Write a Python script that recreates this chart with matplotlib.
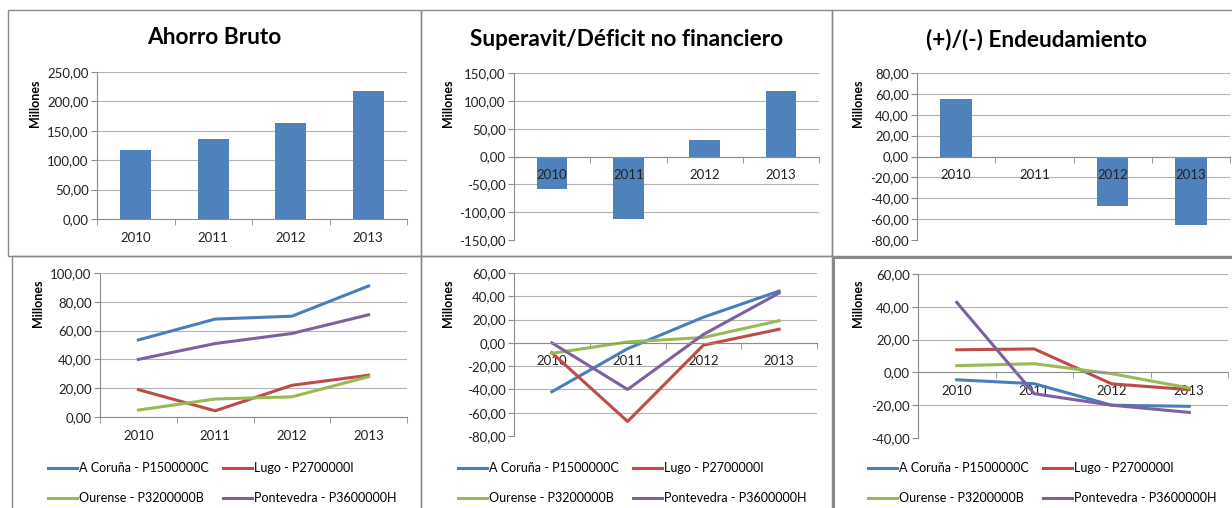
import matplotlib
matplotlib.use("Agg")
import matplotlib.pyplot as plt
from matplotlib.patches import Rectangle
from matplotlib.ticker import FuncFormatter, MultipleLocator, FixedLocator
from matplotlib.lines import Line2D

plt.rcParams['font.family'] = ['Lato', 'DejaVu Sans']

years = ['2010', '2011', '2012', '2013']

# top row, bar charts (millones)
ahorro_bruto = [117, 136, 164, 218]
superavit = [-59, -113, 29, 117]
endeudamiento = [55, 0, -47, -66]

# bottom row, one line per province
provincias = ['A Coruña - P1500000C', 'Lugo - P2700000I',
              'Ourense - P3200000B', 'Pontevedra - P3600000H']
colores = ['#4A7EBB', '#BE4B48', '#98B954', '#7D60A0']

ab_coruna = [53.5, 68, 70, 91]
ab_lugo = [19, 4.3, 22, 29]
ab_ourense = [4.8, 12.5, 14, 28]
ab_pontevedra = [40, 51, 58, 71]

sd_coruna = [-42, -5, 22, 44.5]
sd_lugo = [-8.5, -67.5, -2, 11.7]
sd_ourense = [-9, 0.8, 4.6, 19]
sd_pontevedra = [0, -40, 7.2, 42.8]

en_coruna = [-4.5, -6.9, -20, -20.7]
en_lugo = [13.8, 14.3, -7, -10.5]
en_ourense = [4.1, 5.3, -0.8, -9.5]
en_pontevedra = [42.7, -13, -20, -24.4]

W, H = 1232, 508
fig = plt.figure(figsize=(W / 100, H / 100), dpi=100)


def box(x0, y0, x1, y1):
    return [x0 / W, 1 - y1 / H, (x1 - x0) / W, (y1 - y0) / H]


def coma(v, pos):
    return f"{v:.2f}".replace('.', ',')


GRID = '#b3b3b3'
AXC = '#8c8c8c'


def style(ax, ymin, ymax, step, cross_zero):
    ax.set_xlim(-0.5, 3.5)
    ax.set_ylim(ymin, ymax)
    ax.yaxis.set_major_locator(MultipleLocator(step))
    ax.yaxis.set_major_formatter(FuncFormatter(coma))
    # gridlines by hand so the tick labels stay above the bars
    v = ymin + step
    while v <= ymax + 1e-9:
        ax.axhline(v, color=GRID, lw=0.8, zorder=0)
        v += step
    for s in ['top', 'right']:
        ax.spines[s].set_visible(False)
    ax.spines['left'].set_color(AXC)
    ax.spines['bottom'].set_color(AXC)
    if cross_zero:
        ax.spines['bottom'].set_position(('data', 0))
    ax.set_xticks(range(4))
    ax.set_xticklabels(years)
    ax.xaxis.set_minor_locator(FixedLocator([-0.5, 0.5, 1.5, 2.5, 3.5]))
    ax.tick_params(axis='x', which='major', length=0, pad=9, labelsize=9.5, colors='#222222')
    ax.tick_params(axis='x', which='minor', length=4, color=AXC)
    ax.tick_params(axis='y', length=4, color=AXC, labelsize=9.5, labelcolor='#222222', pad=2)


# panel borders
for (x0, y0, x1, y1, lw) in [(8, 10, 421, 256, 1), (421, 10, 832, 256, 1), (832, 10, 1240, 256, 1),
                             (12, 256, 421, 520, 1), (421, 256, 832, 520, 1), (833, 257, 1240, 520, 2.2)]:
    fig.patches.append(Rectangle((x0 / W, 1 - y1 / H), (x1 - x0) / W, (y1 - y0) / H,
                                 transform=fig.transFigure, fill=False, ec='#8a8a8a', lw=lw))

# top row
top = [
    ('Ahorro Bruto', ahorro_bruto, (97, 72, 407, 219), (0, 250, 50), False, 214, 38, 35),
    ('Superavit/Déficit no financiero', superavit, (514, 73, 819, 240), (-150, 150, 50), True, 627, 39, 448),
    ('(+)/(-) Endeudamiento', endeudamiento, (917, 73, 1230, 240), (-80, 80, 20), True, 1037, 39, 858),
]
for titulo, vals, b, (lo, hi, st), cz, tx, ty, lx in top:
    ax = fig.add_axes(box(*b))
    ax.bar(range(4), vals, width=0.4, color='#4F81BD', zorder=1)
    style(ax, lo, hi, st, cz)
    fig.text(tx / W, 1 - ty / H, titulo, ha='center', va='center', fontsize=16.3, fontweight='bold')
    fig.text(lx / W, 1 - 103 / H, 'Millones', rotation=90, ha='center', va='center',
             fontsize=9, fontweight='bold')

# bottom row
bottom = [
    ([ab_coruna, ab_lugo, ab_ourense, ab_pontevedra], (100, 273, 407, 417), (0, 100, 20), False, 38, 48),
    ([sd_coruna, sd_lugo, sd_ourense, sd_pontevedra], (514, 273, 817, 436), (-80, 60, 20), True, 448, 458),
    ([en_coruna, en_lugo, en_ourense, en_pontevedra], (918, 274, 1228, 438), (-40, 60, 20), True, 858, 868),
]
for series, b, (lo, hi, st), cz, lx, legx in bottom:
    ax = fig.add_axes(box(*b))
    for vals, c in zip(series, colores):
        ax.plot(range(4), vals, color=c, lw=2.2)
    style(ax, lo, hi, st, cz)
    fig.text(lx / W, 1 - 303 / H, 'Millones', rotation=90, ha='center', va='center',
             fontsize=9, fontweight='bold')
    handles = [Line2D([], [], color=c, lw=2.2) for c in colores]
    order = [0, 2, 1, 3]
    ax.legend([handles[i] for i in order], [provincias[i] for i in order],
              loc='upper left', bbox_to_anchor=(legx / W, 1 - 462 / H), bbox_transform=fig.transFigure,
              ncol=2, frameon=False, fontsize=9, handlelength=2.3, handletextpad=0.15,
              columnspacing=1.2, labelspacing=1.45, borderpad=0, borderaxespad=0)

fig.savefig('out.png', dpi=100)
